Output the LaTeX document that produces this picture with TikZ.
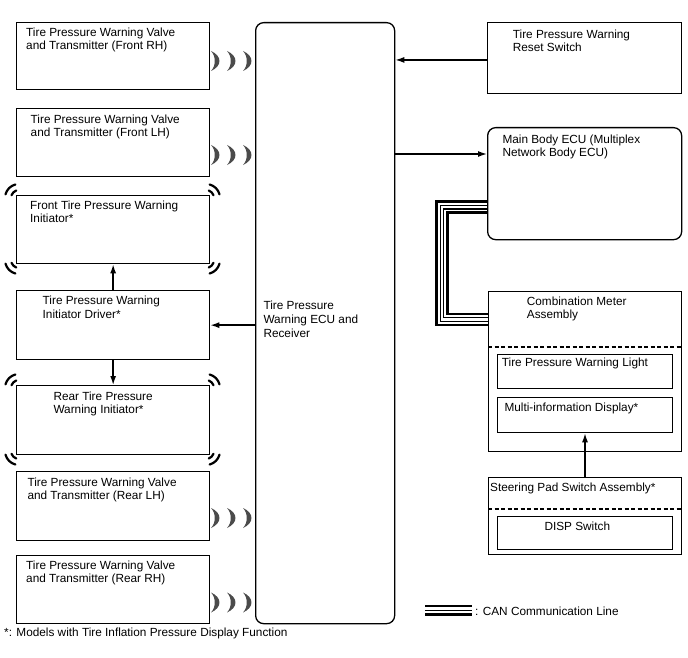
\documentclass[tikz,border=0pt]{standalone}
\usepackage{fontspec}
\setmainfont{Liberation Sans}
\usetikzlibrary{arrows.meta,calc}
\definecolor{wavegray}{RGB}{75,75,75}
\tikzset{
  box/.style={draw, line width=1.3pt, anchor=north west, inner sep=0pt, minimum width=#1},
  box/.default=193pt,
  rbox/.style={box=#1, rounded corners=8pt},
  txt/.style={font=\fontsize{11.8pt}{13.3pt}\selectfont, align=left, inner sep=0pt, anchor=north west},
  arr/.style={line width=1.4pt, -{Latex[length=9pt,width=6pt]}},
  sigline/.style={line width=2.2pt, line cap=round},
  dashsep/.style={line width=1.1pt, dash pattern=on 4pt off 2.5pt},
  cres/.pic={\fill[wavegray] (0,-10) .. controls (11.3,-5) and (11.3,5) .. (0,10) .. controls (5,5) and (5,-5) .. (0,-10) -- cycle;}
}
\newcommand\sigmark[3]{%
  \draw[sigline] ($(#1,#2)+({#3-25}:8)$) arc[start angle={#3-25}, end angle={#3+25}, radius=8];
  \draw[sigline] ($(#1,#2)+({#3-30}:14)$) arc[start angle={#3-30}, end angle={#3+30}, radius=14];}
\newcommand\sigbox[2]{% top y, bottom y
  \sigmark{19}{#1+3}{225}\sigmark{206}{#1+3}{315}%
  \sigmark{206}{#2-3}{45}\sigmark{19}{#2-3}{135}}
\begin{document}
\begin{tikzpicture}[x=1pt,y=-1pt]
\useasboundingbox (0,0) rectangle (688,658);
\fill[white] (0,0) rectangle (688,658);

% left column boxes
\node[box, minimum height=67pt] (frh) at (16,22) {};
\node[box, minimum height=68pt] (flh) at (16,108) {};
\node[box, minimum height=68pt] (fini) at (16,195) {};
\node[box, minimum height=69pt] (drv) at (16,290) {};
\node[box, minimum height=69pt] (rini) at (16,385) {};
\node[box, minimum height=69pt] (rlh) at (16,471) {};
\node[box, minimum height=68pt] (rrh) at (16,555) {};

\node[txt] (tfrh) at (26,27.3) {Tire Pressure Warning Valve\\and Transmitter (Front RH)};
\node[txt] (tflh) at (30.5,114.3) {Tire Pressure Warning Valve\\and Transmitter (Front LH)};
\node[txt] (tfini) at (30,200.5) {Front Tire Pressure Warning\\Initiator*};
\node[txt] (tdrv) at (42.5,296) {Tire Pressure Warning\\Initiator Driver*};
\node[txt] (trini) at (53.3,391.7) {Rear Tire Pressure\\Warning Initiator*};
\node[txt] (trlh) at (27.3,477.3) {Tire Pressure Warning Valve\\and Transmitter (Rear LH)};
\node[txt] (trrh) at (26,560.3) {Tire Pressure Warning Valve\\and Transmitter (Rear RH)};

% ECU
\node[rbox=139pt, minimum height=601pt] (ecu) at (255,22) {};
\node[txt, font=\fontsize{11.8pt}{14.3pt}\selectfont] (tecu) at (263.3,300.5) {Tire Pressure\\Warning ECU and\\Receiver};

% right column
\node[box=194pt, minimum height=71pt] (rst) at (487,22) {};
\node[txt] (trst) at (512.7,29.3) {Tire Pressure Warning\\Reset Switch};
\node[rbox=194pt, minimum height=112pt] (mb) at (487,127) {};
\node[txt] (tmb) at (502.3,134.3) {Main Body ECU (Multiplex\\Network Body ECU)};

\node[box, minimum height=160pt] (cm) at (488,291) {};
\node[txt] (tcm) at (526.7,296.7) {Combination Meter\\Assembly};
\draw[dashsep] (cm.west |- 0,347) -- (cm.east |- 0,347);
\node[box=175pt, minimum height=34pt] (tpl) at (497,354) {};
\node[txt] (ttpl) at (501.7,357.5) {Tire Pressure Warning Light};
\node[box=175pt, minimum height=35pt] (mid) at (497,397) {};
\node[txt] (tmid) at (504.3,402.7) {Multi-information Display*};

\node[box, minimum height=77pt] (sp) at (488,477) {};
\node[txt] (tsp) at (490,482.3) {Steering Pad Switch Assembly*};
\draw[dashsep] (sp.west |- 0,509) -- (sp.east |- 0,509);
\node[box=175pt, minimum height=33pt] (disp) at (497,516) {};
\node[txt] (tdisp) at (544.3,521.7) {DISP Switch};

% arrows
\coordinate (rstout) at ($(rst.west)+(0,1.8)$);
\draw[arr] (rstout) -- (rstout -| ecu.east);
\coordinate (mbin) at ($(mb.north west)+(0,27)$);
\draw[arr] (mbin -| ecu.east) -- (mbin);
\draw[arr] (ecu.west |- drv.east) -- (drv.east);
\draw[arr] (drv.north) -- (fini.south);
\draw[arr] (drv.south) -- (rini.north);
\coordinate (spout) at ($(sp.north west)+(97,0)$);
\draw[arr] (spout) -- (spout |- mid.south);

% CAN line
\foreach \d/\w in {0/2.8, 3.7/1.1, 7.3/1.1, 11/2.8} {
  \draw[line width=\w pt] ($(mb.west)+(0,18+\d)$) -- ++(-50.5+\d,0) |- ($(cm.north west)+(0,34-\d)$);
}

% transmitter waves
\foreach \yy in {61,155,518,602.5} {
  \foreach \xx in {211,227,243} {
    \pic at (\xx,\yy) {cres};
  }
}

% initiator signal marks
\sigbox{195}{263}
\sigbox{385}{454}

% legend
\coordinate (lga) at (425,606);
\coordinate (lgb) at (471.5,606);
\draw[line width=2.6pt] (lga) -- (lgb);
\draw[line width=1.3pt] ($(lga)+(0,4.7)$) -- ($(lgb)+(0,4.7)$);
\draw[line width=2.6pt] ($(lga)+(0,8.7)$) -- ($(lgb)+(0,8.7)$);
\node[txt] (tlg) at (475,606.5) {: CAN Communication Line};

\node[txt] (foot) at (4,628) {*: Models with Tire Inflation Pressure Display Function};
\end{tikzpicture}
\end{document}
